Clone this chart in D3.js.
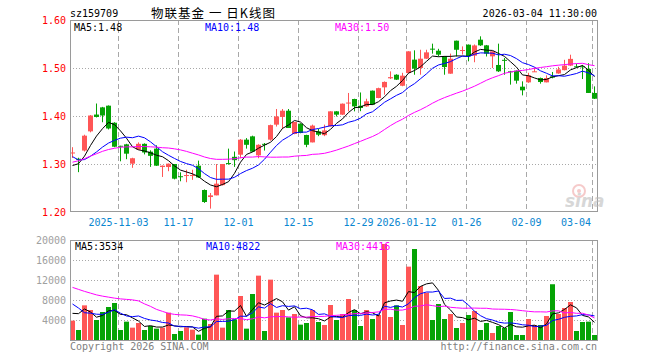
<!DOCTYPE html>
<html><head><meta charset="utf-8">
<script src="https://cdn.jsdelivr.net/npm/d3@7/dist/d3.min.js"></script>
<style>
body{margin:0;background:#fff}
svg{display:block}
text{font-family:"DejaVu Sans Mono","Liberation Mono",monospace;font-size:10px}
</style>
</head><body>
<svg id="c" width="660" height="360"></svg>
<script>
// ---------------- data ----------------
const dates = ["2025-10-22","2025-10-23","2025-10-24","2025-10-27","2025-10-28","2025-10-29","2025-10-30","2025-10-31",
"2025-11-03","2025-11-04","2025-11-05","2025-11-06","2025-11-07","2025-11-10","2025-11-11","2025-11-12","2025-11-13","2025-11-14",
"2025-11-17","2025-11-18","2025-11-19","2025-11-20","2025-11-21","2025-11-24","2025-11-25","2025-11-26","2025-11-27","2025-11-28",
"2025-12-01","2025-12-02","2025-12-03","2025-12-04","2025-12-05","2025-12-08","2025-12-09","2025-12-10","2025-12-11","2025-12-12",
"2025-12-15","2025-12-16","2025-12-17","2025-12-18","2025-12-19","2025-12-22","2025-12-23","2025-12-24","2025-12-25","2025-12-26",
"2025-12-29","2025-12-30","2025-12-31","2026-01-05","2026-01-06","2026-01-07","2026-01-08","2026-01-09",
"2026-01-12","2026-01-13","2026-01-14","2026-01-15","2026-01-16","2026-01-19","2026-01-20","2026-01-21","2026-01-22","2026-01-23",
"2026-01-26","2026-01-27","2026-01-28","2026-01-29","2026-01-30","2026-02-02","2026-02-03","2026-02-04","2026-02-05","2026-02-06",
"2026-02-09","2026-02-10","2026-02-11","2026-02-12","2026-02-13","2026-02-24","2026-02-25","2026-02-26","2026-02-27",
"2026-03-02","2026-03-03","2026-03-04"];

const opens  = [1.323,1.311,1.328,1.368,1.403,1.418,1.4215,1.386,1.338,1.341,1.3007,1.330,1.342,1.3257,1.332,1.2937,1.2937,1.300,1.2745,1.276,
1.276,1.2965,1.2458,1.2312,1.2347,1.256,1.302,1.315,1.3194,1.3507,1.3576,1.318,1.342,1.3507,1.382,1.398,1.411,1.3625,1.384,1.3604,
1.345,1.368,1.360,1.3785,1.4097,1.4028,1.427,1.4354,1.4215,1.420,1.4528,1.4375,1.4597,1.4785,1.486,1.463,1.4896,1.5174,1.500,1.5194,
1.5403,1.536,1.5243,1.4882,1.5569,1.536,1.5486,1.5257,1.559,1.5472,1.5243,1.5063,1.517,1.4931,1.4944,1.4611,1.4701,1.4924,1.4792,1.4701,
1.4826,1.4886,1.4955,1.505,1.5035,1.5035,1.498,1.448];
const highs  = [1.335,1.313,1.361,1.402,1.426,1.419,1.422,1.387,1.338,1.342,1.313,1.345,1.343,1.3285,1.339,1.297,1.301,1.300,1.2826,1.288,
1.288,1.307,1.247,1.2396,1.300,1.274,1.332,1.326,1.352,1.354,1.359,1.341,1.3437,1.382,1.4146,1.4146,1.4146,1.388,1.385,1.361,
1.382,1.373,1.382,1.410,1.410,1.426,1.448,1.436,1.449,1.436,1.453,1.459,1.472,1.493,1.487,1.49,1.535,1.5368,1.538,1.538,
1.5507,1.540,1.525,1.530,1.557,1.545,1.549,1.549,1.566,1.548,1.535,1.5507,1.521,1.494,1.495,1.4722,1.490,1.501,1.480,1.4847,
1.4917,1.5025,1.517,1.5277,1.509,1.506,1.510,1.4617];
const lows   = [1.3125,1.283,1.326,1.366,1.397,1.387,1.372,1.335,1.3056,1.310,1.292,1.330,1.320,1.294,1.296,1.273,1.285,1.268,1.264,1.262,
1.267,1.271,1.219,1.207,1.2347,1.255,1.2986,1.294,1.312,1.332,1.325,1.312,1.328,1.3486,1.378,1.3736,1.375,1.362,1.364,1.335,
1.345,1.358,1.358,1.378,1.399,1.402,1.4097,1.4097,1.410,1.419,1.423,1.437,1.4444,1.477,1.475,1.462,1.489,1.486,1.486,1.519,
1.5299,1.524,1.486,1.488,1.524,1.528,1.5139,1.512,1.546,1.524,1.500,1.4917,1.486,1.4653,1.4674,1.443,1.469,1.4917,1.4674,1.4701,
1.4785,1.488,1.495,1.504,1.501,1.477,1.448,1.4354];
const closes = [1.324,1.309,1.359,1.401,1.398,1.401,1.374,1.336,1.336,1.3215,1.312,1.342,1.324,1.317,1.2965,1.2965,1.3007,1.2694,1.2735,1.277,
1.277,1.272,1.2208,1.2347,1.259,1.300,1.301,1.308,1.3507,1.340,1.3257,1.340,1.340,1.381,1.399,1.411,1.375,1.3875,1.3646,1.340,
1.380,1.361,1.370,1.4097,1.4028,1.4257,1.428,1.420,1.4167,1.4306,1.4236,1.458,1.471,1.481,1.4757,1.484,1.5347,1.4986,1.5194,1.5326,
1.539,1.5278,1.502,1.5194,1.538,1.5375,1.5243,1.547,1.5472,1.5299,1.5347,1.4931,1.516,1.4917,1.4736,1.4535,1.4847,1.4931,1.4708,1.479,
1.480,1.497,1.505,1.519,1.503,1.503,1.448,1.436];
const volumes = [3870,2000,6930,6000,4000,5600,6600,7400,2000,3670,2470,3400,2000,2800,2270,2470,5470,1200,1800,2530,
2070,1070,4270,3200,13070,2470,6000,4130,8800,2270,9200,12870,1800,12070,5470,6000,4530,5200,3070,3400,
6000,3600,3000,7000,4000,5200,8200,6000,2800,6000,4200,5000,19200,4600,6930,3000,14670,18200,10800,9460,
4000,7200,4200,5200,2400,3400,5000,5800,2000,3400,1400,2800,2400,5600,1000,1000,4200,3000,3000,4800,
11150,5200,6400,7600,1800,3600,3670,1000];
// the 29 sessions before the window (needed for the moving averages at the left edge)
const priorCloses = [1.22,1.23,1.24,1.25,1.25,1.26,1.26,1.27,1.30,1.31,1.32,1.33,1.33,1.32,1.33,1.32,1.32,
1.34,1.37,1.39,1.38,1.35,1.33,1.31,1.30,1.29,1.28,1.29,1.30];
const priorVolumes = [14000,18930,16500,14500,13100,12600,13400,6500,6670,5470,9400,20000,17800,20270,14470,17470,7200,
4800,4030,6570,10070,16270,7000,6000,6010,2300,2280,9000,9200];

const tickIdx = [8,18,28,38,48,56,66,76,87];
const tickLabels = ["2025-11-03","11-17","12-01","12-15","12-29","2026-01-12","01-26","02-09","03-04"];
const priceTicks = [1.20,1.30,1.40,1.50,1.60];
const volTicks = [4000,8000,12000,16000,20000];
const maPeriods = [5,10,30];
const maColors = ["#000000","#0000ff","#ff00ff"];

// ---------------- layout ----------------
const RED = "#ff5656", GREEN = "#05a305", GRID = "#a8a8a8";
const svg = d3.select("#c");
const L = 70, R = 598;
const n = closes.length;
const x = d3.scaleBand().domain(d3.range(n)).range([L, 597]).paddingInner(1/6).paddingOuter(0);
const y = d3.scaleLinear().domain([1.2, 1.6]).range([212, 20]);
const yv = d3.scaleLinear().domain([0, 20000]).range([340, 240]);
const cx = i => x(i) + x.bandwidth() / 2;

function ma(prior, arr, p) {
  const all = prior.concat(arr), off = prior.length;
  return arr.map((_, i) => d3.mean(all.slice(off + i - p + 1, off + i + 1)));
}

// title
svg.append("text").attr("x", 70).attr("y", 17).text("sz159709");
svg.append("text").attr("x", 151).attr("y", 18)
  .style("font-family", '"Noto Sans CJK SC",sans-serif').style("font-size", "12.5px")
  .attr("textLength", 124).attr("lengthAdjust", "spacing")
  .text("物联基金 一 日K线图");
svg.append("text").attr("x", 597).attr("y", 17).attr("text-anchor", "end").text("2026-03-04 11:30:00");

// ---------- grids ----------
function panel(top, bottom, hTicks, yscale) {
  const g = svg.append("g");
  hTicks.forEach(t => {
    const yy = Math.round(yscale(t)) + 0.5;
    if (yy > top + 1 && yy < bottom - 1)
      g.append("line").attr("x1", L).attr("x2", R).attr("y1", yy).attr("y2", yy)
        .attr("stroke", GRID).attr("stroke-dasharray", "1,2");
  });
  tickIdx.forEach(k => {
    const xx = x(k) + 0.5;
    g.append("line").attr("x1", xx).attr("x2", xx).attr("y1", top).attr("y2", bottom)
      .attr("stroke", GRID).attr("stroke-dasharray", "5,3");
  });
  return g;
}
panel(20, 212, priceTicks, y);
panel(240, 340, volTicks, yv);

// ---------- candles ----------
const cg = svg.append("g");
d3.range(n).forEach(i => {
  const up = closes[i] >= opens[i];
  const col = up ? RED : GREEN;
  cg.append("line").attr("x1", cx(i)).attr("x2", cx(i))
    .attr("y1", y(highs[i])).attr("y2", y(lows[i])).attr("stroke", col).attr("stroke-width", 1);
  const t = y(Math.max(opens[i], closes[i])), b = y(Math.min(opens[i], closes[i]));
  cg.append("rect").attr("x", x(i)).attr("width", x.bandwidth())
    .attr("y", t).attr("height", Math.max(1, b - t)).attr("fill", col);
});

// ---------- volume bars ----------
const vg = svg.append("g");
d3.range(n).forEach(i => {
  const up = closes[i] >= opens[i];
  vg.append("rect").attr("x", x(i)).attr("width", x.bandwidth())
    .attr("y", yv(volumes[i])).attr("height", yv(0) - yv(volumes[i]))
    .attr("fill", up ? RED : GREEN);
});

// ---------- moving averages ----------
const priceMA = maPeriods.map(p => ma(priorCloses, closes, p));
const volMA = maPeriods.map(p => ma(priorVolumes, volumes, p));
priceMA.forEach((arr, k) => {
  svg.append("path").attr("d", d3.line().x((d, i) => cx(i)).y(d => y(d))(arr))
    .attr("fill", "none").attr("stroke", maColors[k]).attr("stroke-width", 1);
});
volMA.forEach((arr, k) => {
  svg.append("path").attr("d", d3.line().x((d, i) => cx(i)).y(d => yv(d))(arr))
    .attr("fill", "none").attr("stroke", maColors[k]).attr("stroke-width", 1);
});

// ---------- frames ----------
svg.append("rect").attr("x", L + 0.5).attr("y", 20.5).attr("width", R - L - 1).attr("height", 191)
  .attr("fill", "none").attr("stroke", "#9a9a9a");
svg.append("rect").attr("x", L + 0.5).attr("y", 240.5).attr("width", R - L - 1).attr("height", 100)
  .attr("fill", "none").attr("stroke", "#9a9a9a");

// ---------- axes labels ----------
const yAxis = d3.axisLeft(y).tickValues(priceTicks).tickFormat(d3.format(".2f")).tickSize(0).tickPadding(4);
const ya = svg.append("g").attr("transform", `translate(${L},0)`).call(yAxis);
ya.select(".domain").remove();
ya.selectAll("text").attr("fill", "#ff0000").style("font-size", "10px")
  .style("font-family", '"DejaVu Sans Mono",monospace').attr("dy", "0.35em");

const vAxis = d3.axisLeft(yv).tickValues(volTicks).tickFormat(d3.format("d")).tickSize(0).tickPadding(4);
const va = svg.append("g").attr("transform", `translate(${L},0)`).call(vAxis);
va.select(".domain").remove();
va.selectAll("text").attr("fill", "#a0a0a0").style("font-size", "10px")
  .style("font-family", '"DejaVu Sans Mono",monospace').attr("dy", "0.35em");

tickIdx.forEach((k, j) => {
  const last = j === tickIdx.length - 1;
  svg.append("text").attr("x", last ? x(k) - 1 : x(k) + 0.5).attr("y", 226)
    .attr("text-anchor", last ? "end" : "middle").attr("fill", "#0a86d0").text(tickLabels[j]);
});

// ---------- legends ----------
const lastP = priceMA.map(a => a[n - 1]);
const lastV = volMA.map(a => a[n - 1]);
const legX = [74, 205, 335];
maPeriods.forEach((p, k) => {
  svg.append("text").attr("x", legX[k]).attr("y", 31).attr("fill", maColors[k])
    .text(`MA${p}:${lastP[k].toFixed(2)}`);
  svg.append("text").attr("x", legX[k] + 1).attr("y", 250).attr("fill", maColors[k])
    .text(`MA${p}:${Math.round(lastV[k])}`);
});

// ---------- footer & watermark ----------
svg.append("text").attr("x", 70).attr("y", 350).attr("fill", "#808080").text("Copyright 2026 SINA.COM");
svg.append("text").attr("x", 597).attr("y", 350).attr("text-anchor", "end").attr("fill", "#808080").text("http://finance.sina.com.cn");

const wm = svg.append("g").attr("opacity", 0.55);
wm.append("circle").attr("cx", 579).attr("cy", 191).attr("r", 6).attr("fill", "none").attr("stroke", "#f0a0a0").attr("stroke-width", 2);
wm.append("circle").attr("cx", 579).attr("cy", 191).attr("r", 2).attr("fill", "#f0a0a0");
wm.append("text").attr("x", 565).attr("y", 207).style("font-family", '"DejaVu Sans",sans-serif')
  .style("font-size", "17px").style("font-style", "italic").style("font-weight", "bold")
  .attr("fill", "#b8b8b8").text("sina");
</script>
</body></html>
